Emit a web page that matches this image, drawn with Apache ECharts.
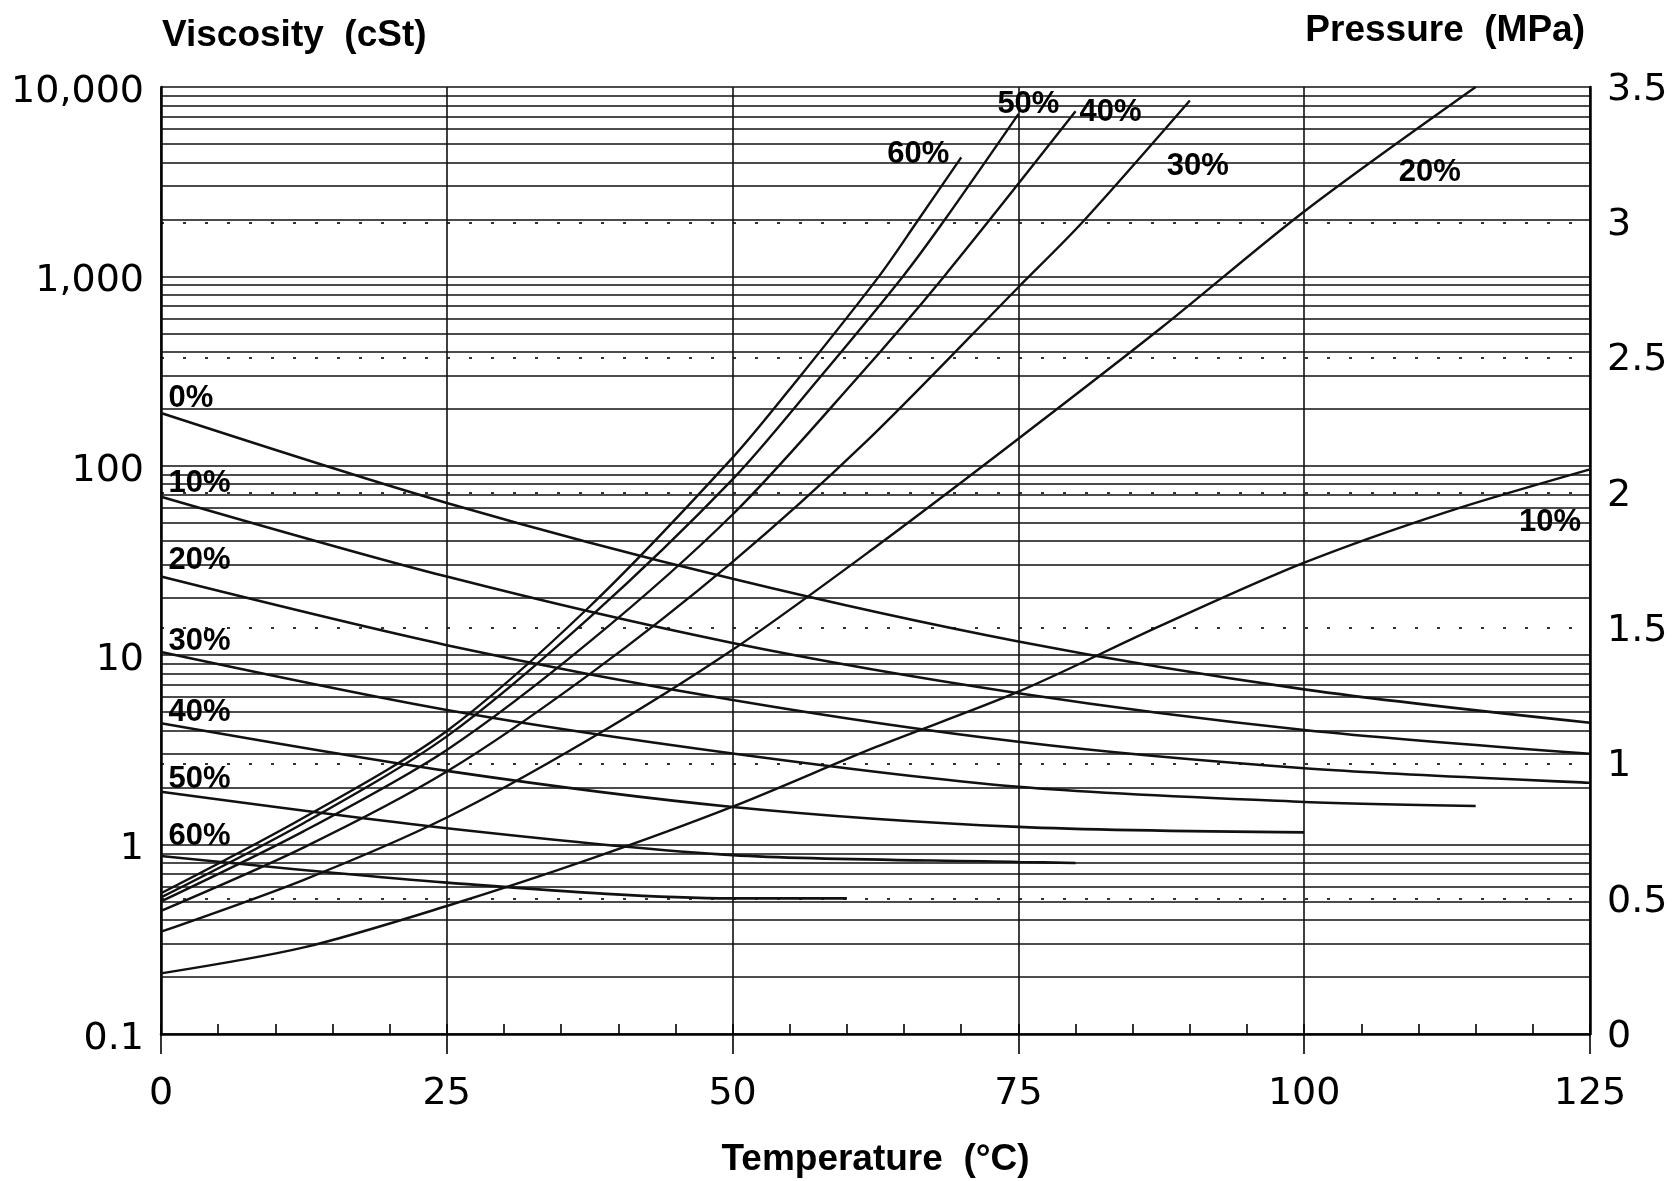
<!DOCTYPE html>
<html><head><meta charset="utf-8">
<script src="https://cdn.jsdelivr.net/npm/echarts@6/dist/echarts.min.js"></script>
<style>html,body{margin:0;padding:0;background:#fff}#chart{width:1674px;height:1181px}</style>
</head><body><div id="chart"></div>
<script>
// ---------------- data ----------------
const tempTicks = [0, 25, 50, 75, 100, 125];
const viscosityTickLabels = ['0.1', '1', '10', '100', '1,000', '10,000'];
const pressureTickLabels = ['0', '0.5', '1', '1.5', '2', '2.5', '3', '3.5'];

// Viscosity (cSt, left log axis) vs temperature (°C)
const visc0T  = [0, 25, 50, 75, 100, 125];
const visc0   = [190, 63.7, 25.3, 11.8, 6.6, 4.4];
const visc10T = [0, 25, 50, 75, 100, 125];
const visc10  = [68.7, 26.0, 11.6, 6.3, 4.03, 3.02];
const visc20T = [0, 25, 50, 75, 100, 125];
const visc20  = [26.0, 11.3, 5.8, 3.49, 2.53, 2.12];
const visc30T = [0, 25, 50, 75, 100, 115];
const visc30  = [10.4, 5.14, 3.03, 2.02, 1.68, 1.6];
const visc40T = [0, 25, 50, 75, 100];
const visc40  = [4.37, 2.45, 1.58, 1.24, 1.16];
const visc50T = [0, 25, 50, 75, 80];
const visc50  = [1.90, 1.22, 0.88, 0.81, 0.80];
const visc60T = [0, 25, 50, 60];
const visc60  = [0.87, 0.63, 0.52, 0.52];

// Pressure (MPa, right linear axis) vs temperature (°C)
const pres60T = [0, 12.5, 25, 37.5, 50, 55.7, 62.8, 66.1, 70];
const pres60  = [0.52, 0.80, 1.12, 1.58, 2.13, 2.42, 2.80, 3.00, 3.24];
const pres50T = [0, 12.5, 25, 37.5, 50, 57.5, 64.9, 68.4, 75];
const pres50  = [0.505, 0.78, 1.10, 1.54, 2.05, 2.42, 2.80, 3.00, 3.40];
const pres40T = [0, 12.5, 25, 37.5, 50, 60.8, 68.5, 80];
const pres40  = [0.49, 0.75, 1.05, 1.45, 1.92, 2.42, 2.80, 3.41];
const pres30T = [0, 12.5, 25, 37.5, 50, 61.7, 75, 80.6, 90];
const pres30  = [0.455, 0.69, 0.97, 1.33, 1.745, 2.19, 2.76, 3.00, 3.45];
const pres20T = [0, 12.5, 25, 37.5, 50, 62.5, 75, 87.5, 100, 115];
const pres20  = [0.378, 0.57, 0.80, 1.09, 1.42, 1.80, 2.20, 2.61, 3.04, 3.50];
const pres10T = [0, 12.5, 25, 37.5, 50, 62.5, 75, 87.5, 100, 112.5, 125];
const pres10  = [0.224, 0.32, 0.473, 0.646, 0.84, 1.06, 1.265, 1.51, 1.742, 1.93, 2.087];

// ---------------- styling ----------------
const FONT = '"Liberation Sans", Arial, Helvetica, sans-serif';
const TICKFONT = '"DejaVu Sans", "Liberation Sans", sans-serif';
const INK = '#111';
const pairs = (ts, vs) => ts.map((t, i) => [t, vs[i]]);

// minor log gridlines at 2..9 x each decade
const minorGrid = [];
[0.1, 1, 10, 100, 1000].forEach(d => { for (let m = 2; m <= 9; m++) minorGrid.push(+(m * d).toPrecision(3)); });

const viscSeriesDefs = [
  { name: '0%',  T: visc0T,  V: visc0,  off: [2, -15] },
  { name: '10%', T: visc10T, V: visc10, off: [2, -13] },
  { name: '20%', T: visc20T, V: visc20, off: [2, -16] },
  { name: '30%', T: visc30T, V: visc30, off: [2, -11] },
  { name: '40%', T: visc40T, V: visc40, off: [2, -11] },
  { name: '50%', T: visc50T, V: visc50, off: [2, -12] },
  { name: '60%', T: visc60T, V: visc60, off: [2, -20] }
];
const presSeriesDefs = [
  { name: '60%', T: pres60T, V: pres60, off: [-43, -3] },
  { name: '50%', T: pres50T, V: pres50, off: [10, -10] },
  { name: '40%', T: pres40T, V: pres40, off: [35, 1] },
  { name: '30%', T: pres30T, V: pres30, off: [8, 66] },
  { name: '20%', T: pres20T, V: pres20, off: [-46, 85] },
  { name: '10%', T: pres10T, V: pres10, off: [-40, 53] }
];

const labelText = { color: '#000', fontSize: 31, fontWeight: 'bold', fontFamily: FONT };

const series = [];
viscSeriesDefs.forEach((d, i) => {
  const s = {
    type: 'line', name: 'visc ' + d.name, xAxisIndex: 0, yAxisIndex: 0,
    data: pairs(d.T, d.V), symbol: 'none', smooth: 0.3, silent: true,
    lineStyle: { color: INK, width: 2.6 }, z: 5,
    markPoint: {
      symbol: 'circle', symbolSize: 1, silent: true, itemStyle: { color: 'rgba(0,0,0,0)' },
      label: Object.assign({ show: true, formatter: d.name, position: 'right', offset: d.off }, labelText),
      data: [{ coord: [d.T[0], d.V[0]] }]
    }
  };
  if (i === 0) {
    s.markLine = {
      silent: true, symbol: ['none', 'none'], animation: false, label: { show: false },
      lineStyle: { color: INK, width: 1.6, type: 'solid' },
      data: minorGrid.map(v => ({ yAxis: v }))
    };
  }
  series.push(s);
});
presSeriesDefs.forEach(d => {
  const n = d.T.length - 1;
  series.push({
    type: 'line', name: 'pres ' + d.name, xAxisIndex: 0, yAxisIndex: 1,
    data: pairs(d.T, d.V), symbol: 'none', smooth: 0.3, silent: true,
    lineStyle: { color: INK, width: 2.4 }, z: 5,
    markPoint: {
      symbol: 'circle', symbolSize: 1, silent: true, itemStyle: { color: 'rgba(0,0,0,0)' },
      label: Object.assign({ show: true, formatter: d.name, position: 'inside', offset: d.off }, labelText),
      data: [{ coord: [d.T[n], d.V[n]] }]
    }
  });
});

const tickFont = { color: '#000', fontSize: 38, fontFamily: TICKFONT };
const titleFont = { color: '#000', fontSize: 37, fontWeight: 'bold', fontFamily: FONT };

const option = {
  animation: false,
  backgroundColor: '#fff',
  title: [
    { text: 'Viscosity  (cSt)', left: 157, top: 12, textStyle: titleFont },
    { text: 'Pressure  (MPa)', right: 84, top: 7, textStyle: titleFont }
  ],
  grid: { left: 161, right: 84, top: 87, bottom: 147, containLabel: false, outerBoundsMode: 'none' },
  xAxis: [
    {
      type: 'value', min: tempTicks[0], max: tempTicks[tempTicks.length - 1], interval: 25, position: 'bottom',
      axisLine: { show: true, onZero: false, lineStyle: { color: '#000', width: 2.5 } },
      axisTick: { show: true, inside: false, length: 20, lineStyle: { color: '#000', width: 1.6 } },
      axisLabel: Object.assign({ margin: 41, formatter: v => String(v) }, tickFont),
      splitLine: { show: true, lineStyle: { color: INK, width: 1.6 } },
      name: 'Temperature  (°C)', nameLocation: 'middle', nameGap: 107, nameTextStyle: titleFont
    },
    {
      type: 'value', min: 0, max: 125, interval: 5, position: 'bottom',
      axisLine: { show: false, onZero: false },
      axisTick: { show: true, inside: true, length: 10, lineStyle: { color: '#000', width: 1.6 } },
      axisLabel: { show: false }, splitLine: { show: false }
    }
  ],
  yAxis: [
    {
      type: 'log', logBase: 10, min: 0.1, max: 10000, position: 'left',
      axisLine: { show: true, onZero: false, lineStyle: { color: '#000', width: 2.5 } },
      axisTick: { show: false },
      axisLabel: Object.assign({ margin: 17, verticalAlign: 'top', lineHeight: 10, formatter: v => viscosityTickLabels[Math.round(Math.log10(v)) + 1] }, tickFont),
      splitLine: { show: true, lineStyle: { color: INK, width: 1.6 } },
      minorTick: { show: false }, minorSplitLine: { show: false }
    },
    {
      type: 'value', min: 0, max: 3.5, interval: 0.5, position: 'right',
      axisLine: { show: true, onZero: false, lineStyle: { color: '#000', width: 2.5 } },
      axisTick: { show: false },
      axisLabel: Object.assign({ margin: 17, verticalAlign: 'top', lineHeight: 6, formatter: v => pressureTickLabels[Math.round(v / 0.5)] }, tickFont),
      splitLine: { show: true, showMinLine: false, showMaxLine: false, lineStyle: { color: '#333', width: 2, type: [3, 19] } }
    }
  ],
  series: series
};

const chart = echarts.init(document.getElementById('chart'), null, { renderer: 'canvas' });
chart.setOption(option);
</script></body></html>
